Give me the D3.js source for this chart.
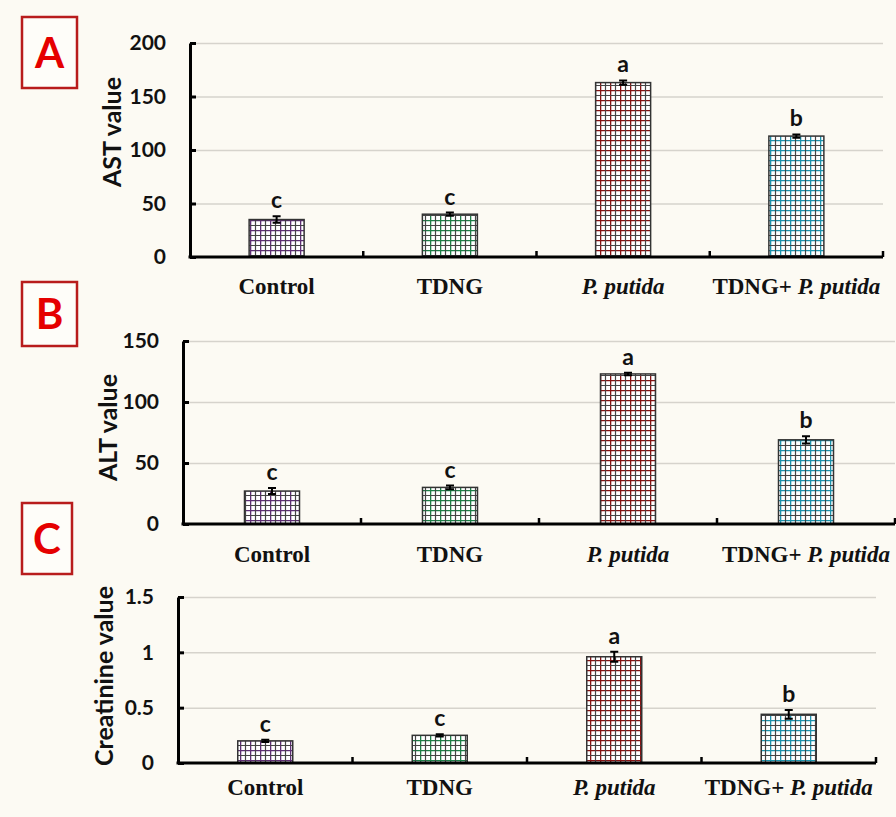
<!DOCTYPE html>
<html>
<head>
<meta charset="utf-8">
<script src="https://cdn.jsdelivr.net/npm/d3@7"></script>
<style>
  body { margin: 0; background: #fcfaf3; }
  svg { display: block; }
</style>
</head>
<body>
<svg id="chart" width="896" height="817"></svg>
<script>
// Groups and significance letters
const groups = ["Control", "TDNG", "P. putida", "TDNG+ P. putida"];
const sigLetters = ["c", "c", "a", "b"];
const barColors = ["#5e2f74", "#1f7f48", "#861414", "#1e93ad"];

// Panel A - AST
const astMean = [35, 40, 163, 113];
const astErr = [3, 1.5, 2, 1.5];
const astTicks = [0, 50, 100, 150, 200];

// Panel B - ALT
const altMean = [27, 30, 123, 69];
const altErr = [2.5, 1.5, 1, 3];
const altTicks = [0, 50, 100, 150];

// Panel C - Creatinine
const creatMean = [0.2, 0.25, 0.96, 0.44];
const creatErr = [0.01, 0.01, 0.045, 0.04];
const creatTicks = [0, 0.5, 1, 1.5];

const svg = d3.select("#chart");
svg.append("rect").attr("width", 896).attr("height", 817).attr("fill", "#fcfaf3");

// grid patterns for the bars
const defs = svg.append("defs");
barColors.forEach((c, i) => {
  const p = defs.append("pattern")
    .attr("id", "grid" + i)
    .attr("patternUnits", "userSpaceOnUse")
    .attr("width", 10).attr("height", 10);
  p.append("rect").attr("width", 10).attr("height", 10).attr("fill", "#ffffff");
  p.append("path").attr("d", "M0,0.5H10M0.5,0V10").attr("stroke", c).attr("stroke-width", 1.6);
  p.append("path").attr("d", "M0,5.5H10M5.5,0V10").attr("stroke", "#444").attr("stroke-width", 1.2);
});

const panels = [
  { tag: "A", box: [22, 17, 55, 71], label: "AST value", labelX: 112,
    mean: astMean, err: astErr, ticks: astTicks, max: 200,
    left: 190, right: 883, top: 43, bottom: 257, xLabelY: 294, fmt: d3.format("d") },
  { tag: "B", box: [22, 282, 55, 64], label: "ALT value", labelX: 108,
    mean: altMean, err: altErr, ticks: altTicks, max: 150,
    left: 183, right: 895, top: 341, bottom: 524, xLabelY: 562, fmt: d3.format("d") },
  { tag: "C", box: [22, 503, 50, 71], label: "Creatinine value", labelX: 104,
    mean: creatMean, err: creatErr, ticks: creatTicks, max: 1.5,
    left: 178, right: 876, top: 597, bottom: 763, xLabelY: 795, fmt: d => d }
];

panels.forEach(pn => {
  const g = svg.append("g");

  // red letter box
  g.append("rect")
    .attr("x", pn.box[0]).attr("y", pn.box[1])
    .attr("width", pn.box[2]).attr("height", pn.box[3])
    .attr("fill", "#fefdf9").attr("stroke", "#b81c1c").attr("stroke-width", 2.5);
  g.append("text")
    .attr("x", pn.box[0] + pn.box[2] / 2).attr("y", pn.box[1] + pn.box[3] / 2 + 15)
    .attr("text-anchor", "middle")
    .attr("font-family", "Lato, 'Open Sans', sans-serif").attr("font-weight", "bold")
    .attr("font-size", 42).attr("fill", "#e50000")
    .text(pn.tag);

  const x = d3.scaleBand().domain(groups).range([pn.left, pn.right]).padding(0);
  const y = d3.scaleLinear().domain([0, pn.max]).range([pn.bottom, pn.top]);

  // gridlines
  g.append("g")
    .attr("transform", `translate(${pn.left},0)`)
    .call(d3.axisLeft(y).tickValues(pn.ticks.slice(1)).tickSize(-(pn.right - pn.left)).tickFormat(""))
    .call(a => a.select(".domain").remove())
    .call(a => a.selectAll("line").attr("stroke", "#d6d3cc").attr("stroke-width", 1.5));

  // bars
  const bw = 55;
  g.selectAll(".bar")
    .data(groups)
    .enter().append("rect")
    .attr("x", d => x(d) + x.bandwidth() / 2 - bw / 2)
    .attr("y", (d, i) => y(pn.mean[i]))
    .attr("width", bw)
    .attr("height", (d, i) => y(0) - y(pn.mean[i]))
    .attr("fill", (d, i) => `url(#grid${i})`)
    .attr("stroke", "#333")
    .attr("stroke-width", 1.5);

  // error bars
  groups.forEach((d, i) => {
    const cx = x(d) + x.bandwidth() / 2;
    const hi = y(pn.mean[i] + pn.err[i]);
    const lo = y(pn.mean[i] - pn.err[i]);
    g.append("path")
      .attr("d", `M${cx},${hi}V${lo}M${cx - 4},${hi}H${cx + 4}M${cx - 4},${lo}H${cx + 4}`)
      .attr("stroke", "#000").attr("stroke-width", 2).attr("fill", "none");
    g.append("text")
      .attr("x", cx).attr("y", hi - 8)
      .attr("text-anchor", "middle")
      .attr("font-family", "Lato, sans-serif").attr("font-weight", "bold")
      .attr("font-size", 23).attr("fill", "#111")
      .text(sigLetters[i]);
  });

  // y axis
  const yAxis = g.append("g")
    .attr("transform", `translate(${pn.left},0)`)
    .call(d3.axisLeft(y).tickValues(pn.ticks).tickSizeInner(-6).tickSizeOuter(0)
      .tickPadding(24).tickFormat(pn.fmt));
  yAxis.select(".domain").attr("stroke", "#000").attr("stroke-width", 3);
  yAxis.selectAll("line").attr("stroke", "#000").attr("stroke-width", 3);
  yAxis.selectAll("text")
    .attr("font-family", "Lato, sans-serif").attr("font-weight", "bold")
    .attr("font-size", 21).attr("fill", "#111");

  // x axis with ticks at band boundaries
  g.append("line")
    .attr("x1", pn.left - 1.5).attr("x2", pn.right)
    .attr("y1", y(0)).attr("y2", y(0))
    .attr("stroke", "#000").attr("stroke-width", 3);
  g.selectAll(".xtick")
    .data(groups)
    .enter().append("line")
    .attr("x1", d => x(d) + x.bandwidth()).attr("x2", d => x(d) + x.bandwidth())
    .attr("y1", y(0)).attr("y2", y(0) - 6)
    .attr("stroke", "#000").attr("stroke-width", 2.5);

  // x labels
  groups.forEach(d => {
    const t = g.append("text")
      .attr("x", x(d) + x.bandwidth() / 2).attr("y", pn.xLabelY)
      .attr("text-anchor", "middle")
      .attr("font-family", "'Liberation Serif', 'Times New Roman', serif")
      .attr("font-weight", "bold").attr("font-size", 23).attr("fill", "#111");
    if (d.includes("+")) {
      const parts = d.split(" P. ");
      t.append("tspan").text(parts[0] + " ");
      t.append("tspan").attr("font-style", "italic").text("P. " + parts[1]);
    } else if (d.startsWith("P.")) {
      t.attr("font-style", "italic").text(d);
    } else {
      t.text(d);
    }
  });

  // y label
  g.append("text")
    .attr("transform", `translate(${pn.labelX},${(pn.top + pn.bottom) / 2 + (pn.tag === "A" ? -18 : pn.tag === "B" ? -5 : -4)}) rotate(-90)`)
    .attr("text-anchor", "middle")
    .attr("dy", "0.35em")
    .attr("font-family", "Lato, sans-serif").attr("font-weight", "bold")
    .attr("font-size", 25).attr("fill", "#111")
    .text(pn.label);
});
</script>
</body>
</html>
